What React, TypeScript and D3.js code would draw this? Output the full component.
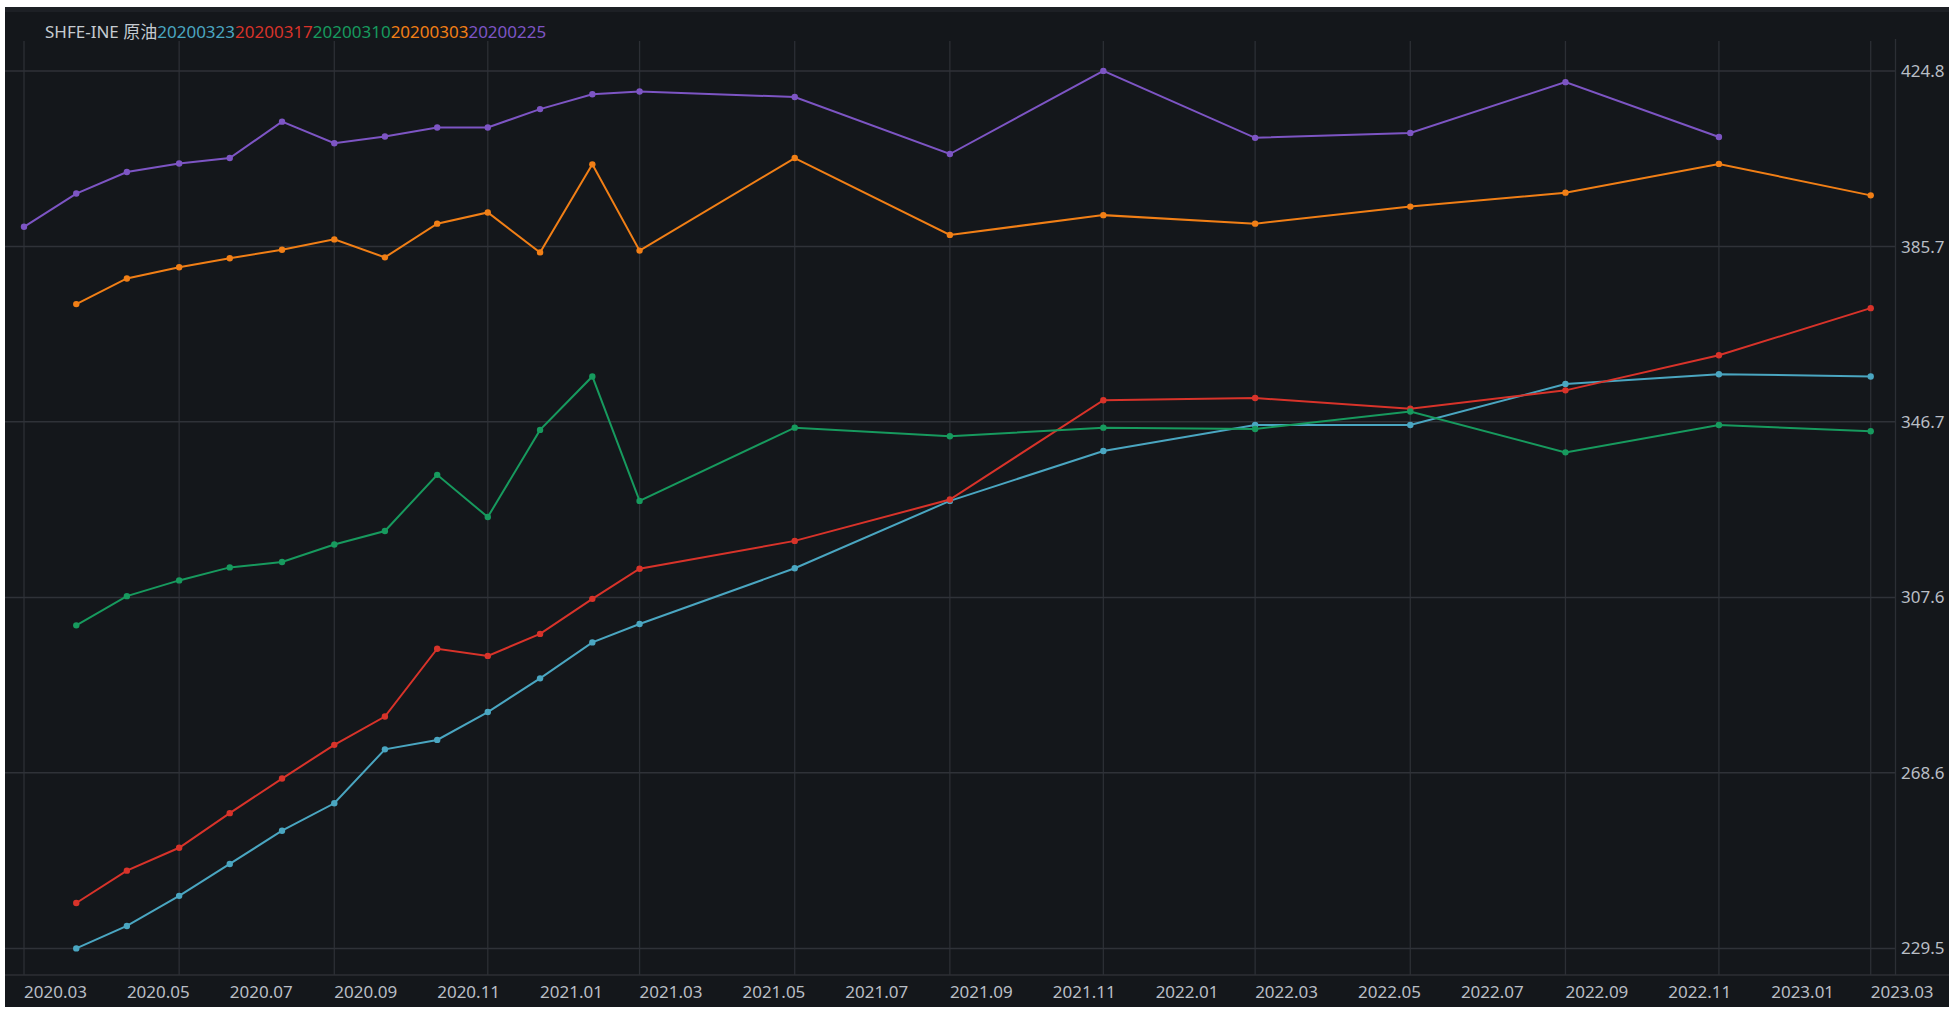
import React from 'react';
import * as d3 from 'd3';

// months for the contracts that start in April 2020
const monthsA = [
  '2020-04', '2020-05', '2020-06', '2020-07', '2020-08', '2020-09', '2020-10',
  '2020-11', '2020-12', '2021-01', '2021-02', '2021-03', '2021-06', '2021-09',
  '2021-12', '2022-03', '2022-06', '2022-09', '2022-12', '2023-03',
];
// months for the 20200225 curve
const monthsB = [
  '2020-03', '2020-04', '2020-05', '2020-06', '2020-07', '2020-08', '2020-09',
  '2020-10', '2020-11', '2020-12', '2021-01', '2021-02', '2021-03', '2021-06',
  '2021-09', '2021-12', '2022-03', '2022-06', '2022-09', '2022-12',
];

const s20200323 = [229.5, 234.5, 241.2, 248.3, 255.7, 261.8, 273.8, 275.9, 282.1, 289.6, 297.6, 301.7, 314.1, 329.1, 340.2, 346.0, 346.0, 355.1, 357.3, 356.8];
const s20200317 = [239.6, 246.8, 251.9, 259.6, 267.3, 274.8, 281.1, 296.2, 294.6, 299.5, 307.3, 314.0, 320.2, 329.4, 351.5, 352.0, 349.6, 353.7, 361.5, 372.0];
const s20200310 = [301.4, 307.9, 311.4, 314.3, 315.5, 319.4, 322.4, 334.9, 325.5, 344.9, 356.8, 329.1, 345.4, 343.5, 345.4, 345.1, 349.0, 339.9, 346.0, 344.6];
const s20200303 = [372.9, 378.6, 381.1, 383.1, 385.0, 387.3, 383.3, 390.8, 393.3, 384.4, 404.0, 384.8, 405.4, 388.3, 392.7, 390.8, 394.6, 397.7, 404.1, 397.1];
const s20200225 = [390.1, 397.5, 402.3, 404.2, 405.4, 413.5, 408.7, 410.2, 412.2, 412.2, 416.3, 419.6, 420.2, 419.0, 406.3, 424.8, 409.9, 411.0, 422.3, 410.1];

const seriesNames = ['20200323', '20200317', '20200310', '20200303', '20200225'];
const yTicks = [229.5, 268.6, 307.6, 346.7, 385.7, 424.8];
const title = 'SHFE-INE 原油';

const colors = ['#4aa6c1', '#d8332a', '#179a5e', '#f17f16', '#7d55c4'];

const W = 1949;
const H = 1010;
const font = '"Noto Sans", "Noto Sans CJK SC", sans-serif';

export default function App() {
  const parse = d3.utcParse('%Y-%m');
  const start = parse('2020-03')!;
  const end = parse('2023-03')!;

  const x = d3.scaleUtc().domain([start, end]).range([24, 1870.7]);
  const y = d3.scaleLinear().domain([229.5, 424.8]).range([948.4, 70.9]);

  const plotTop = 41;
  const plotBottom = 975;
  const axisX = 1895.5;

  const series = [
    { name: seriesNames[0], months: monthsA, values: s20200323 },
    { name: seriesNames[1], months: monthsA, values: s20200317 },
    { name: seriesNames[2], months: monthsA, values: s20200310 },
    { name: seriesNames[3], months: monthsA, values: s20200303 },
    { name: seriesNames[4], months: monthsB, values: s20200225 },
  ].map((s, i) => ({
    ...s,
    color: colors[i],
    pts: s.values.map((v, j) => ({ d: parse(s.months[j])!, v })),
  }));

  const line = d3.line<{ d: Date; v: number }>()
    .x(p => x(p.d))
    .y(p => y(p.v));

  const gridMonths = d3.utcMonth.range(start, d3.utcDay.offset(end, 1), 3);
  const labelMonths = x.ticks(d3.utcMonth.every(2)!);
  const fmt = d3.utcFormat('%Y.%m');

  return (
    <div style={{ position: 'absolute', left: 0, top: 0 }}>
      <svg width={W} height={H} style={{ display: 'block' }}>
        <rect x={0} y={0} width={W} height={H} fill="#ffffff" />
        <rect x={5} y={7} width={W - 5} height={1000} fill="#14171b" />
        <rect x={5} y={7} width={W - 5} height={5} fill="#1d2025" />

        {/* grid */}
        {gridMonths.map((m, i) => (
          <line key={'v' + i} x1={x(m)} x2={x(m)} y1={plotTop} y2={plotBottom}
            stroke="#2c2f35" strokeWidth={1.3} />
        ))}
        {yTicks.map((t, i) => (
          <line key={'h' + i} x1={5} x2={axisX} y1={y(t)} y2={y(t)}
            stroke="#2f3238" strokeWidth={1.5} />
        ))}
        <line x1={5} x2={W} y1={plotBottom} y2={plotBottom} stroke="#2c2f35" strokeWidth={1.5} />
        <line x1={axisX} x2={axisX} y1={plotTop - 2} y2={plotBottom} stroke="#2c2f35" strokeWidth={1.3} />

        {/* y labels */}
        {yTicks.map((t, i) => (
          <text key={'yt' + i} x={1901} y={y(t)} dy="0.35em" fontFamily={font}
            fontSize={17} fill="#b9bec5">{t.toFixed(1)}</text>
        ))}

        {/* x labels */}
        {labelMonths.map((m, i) => (
          <text key={'xt' + i} x={x(m)} y={992} dy="0.35em" fontFamily={font}
            fontSize={17} fill="#b9bec5">{fmt(m)}</text>
        ))}

        {/* lines */}
        {series.map(s => (
          <g key={s.name}>
            <path d={line(s.pts) ?? ''} fill="none" stroke={s.color} strokeWidth={2} />
            {s.pts.map((p, j) => (
              <circle key={j} cx={x(p.d)} cy={y(p.v)} r={3.2} fill={s.color} />
            ))}
          </g>
        ))}

        {/* legend */}
        <text x={45} y={32} dy="0.35em" fontFamily={font} fontSize={17}>
          <tspan fill="#c6cbd1">{title}</tspan>
          {series.map(s => (
            <tspan key={s.name} fill={s.color}>{s.name}</tspan>
          ))}
        </text>
      </svg>
    </div>
  );
}
